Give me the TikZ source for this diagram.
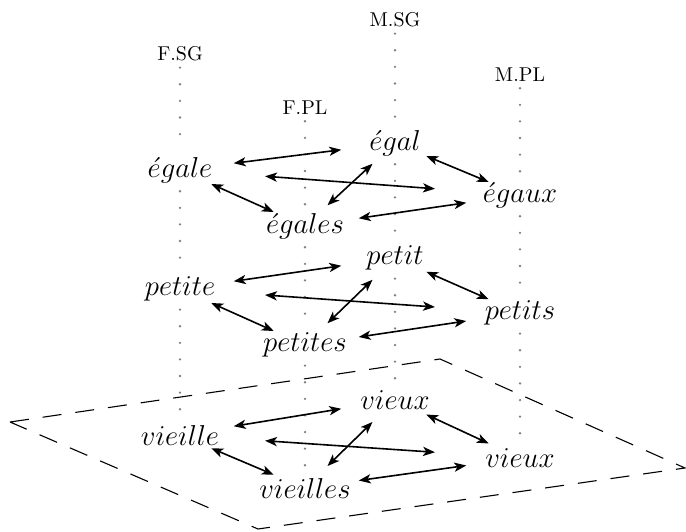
\documentclass[tikz,border=0pt]{standalone}
\usetikzlibrary{calc,arrows.meta}

\begin{document}
\begin{tikzpicture}[x=25pt, y=25pt, >={Stealth[length=6pt,width=4.6pt,inset=1.6pt]},
    form/.style={fill=white, inner sep=4pt, font=\Large},
    feat/.style={inner sep=3pt},
    vline/.style={gray, line width=1.3pt, line cap=round, dash pattern=on 0pt off 8.3pt},
    rel/.style={<->, line width=0.8pt}]
    \useasboundingbox (0,0) rectangle (13.72,-10.62);

    % feature labels
    \node[feat] (fsg) at (3.6,-1.08) {F.SG};
    \node[feat] (fpl) at (6.1,-2.16) {F.PL};
    \node[feat] (msg) at (7.9,-0.4) {M.SG};
    \node[feat] (mpl) at (10.4,-1.5) {M.PL};

    % the ground plane
    \draw [line width=0.55pt, dash pattern=on 9.5pt off 7pt]
      (0.2,-8.44) -- (8.8,-7.18) -- (13.7,-9.36) -- (5.16,-10.58) -- cycle;

    % egal
    \node[form] (egale) at (3.6,-3.4) {$\acute{e}gale$};
    \node[form] (egales) at (6.1,-4.52) {$\acute{e}gales$};
    \node[form] (egal) at (7.9,-2.86) {$\acute{e}gal$};
    \node[form] (egaux) at (10.4,-3.9) {$\acute{e}gaux$};

    % petit
    \node[form] (petite) at (3.6,-5.78) {$petite$};
    \node[form] (petites) at (6.1,-6.9) {$petites$};
    \node[form] (petit) at (7.9,-5.16) {$petit$};
    \node[form] (petits) at (10.4,-6.26) {$petits$};

    % vieux
    \node[form] (vieille) at (3.6,-8.7) {$vieille$};
    \node[form] (vieilles) at (6.1,-9.76) {$vieilles$};
    \node[form] (vieux) at (7.9,-8.0) {$vieux$};
    \node[form] (vieuxpl) at (10.4,-9.16) {$vieux$};

    % columns
    \draw[vline] (fsg.south) -- (egale.north) (egale.south) -- (petite.north) (petite.south) -- (vieille.north);
    \draw[vline] (fpl.south) -- (egales.north) (egales.south) -- (petites.north) (petites.south) -- (vieilles.north);
    \draw[vline] (msg.south) -- (egal.north) (egal.south) -- (petit.north) (petit.south) -- (vieux.north);
    \draw[vline] (mpl.south) -- (egaux.north) (egaux.south) -- (petits.north) (petits.south) -- (vieuxpl.north);

    % relations
    \foreach \fs/\fp/\ms/\mp in {egale/egales/egal/egaux, petite/petites/petit/petits,
                                 vieille/vieilles/vieux/vieuxpl} {
      \draw[rel] ($(\fs)!0.25!(\ms)$) -- ($(\fs)!0.75!(\ms)$);
      \draw[rel] ($(\fs)!0.25!(\mp)$) -- ($(\fs)!0.75!(\mp)$);
      \draw[rel] ($(\fs)!0.25!(\fp)$) -- ($(\fs)!0.75!(\fp)$);
      \draw[rel] ($(\fp)!0.25!(\ms)$) -- ($(\fp)!0.75!(\ms)$);
      \draw[rel] ($(\fp)!0.25!(\mp)$) -- ($(\fp)!0.75!(\mp)$);
      \draw[rel] ($(\ms)!0.25!(\mp)$) -- ($(\ms)!0.75!(\mp)$);
    }
  \end{tikzpicture}
\end{document}
